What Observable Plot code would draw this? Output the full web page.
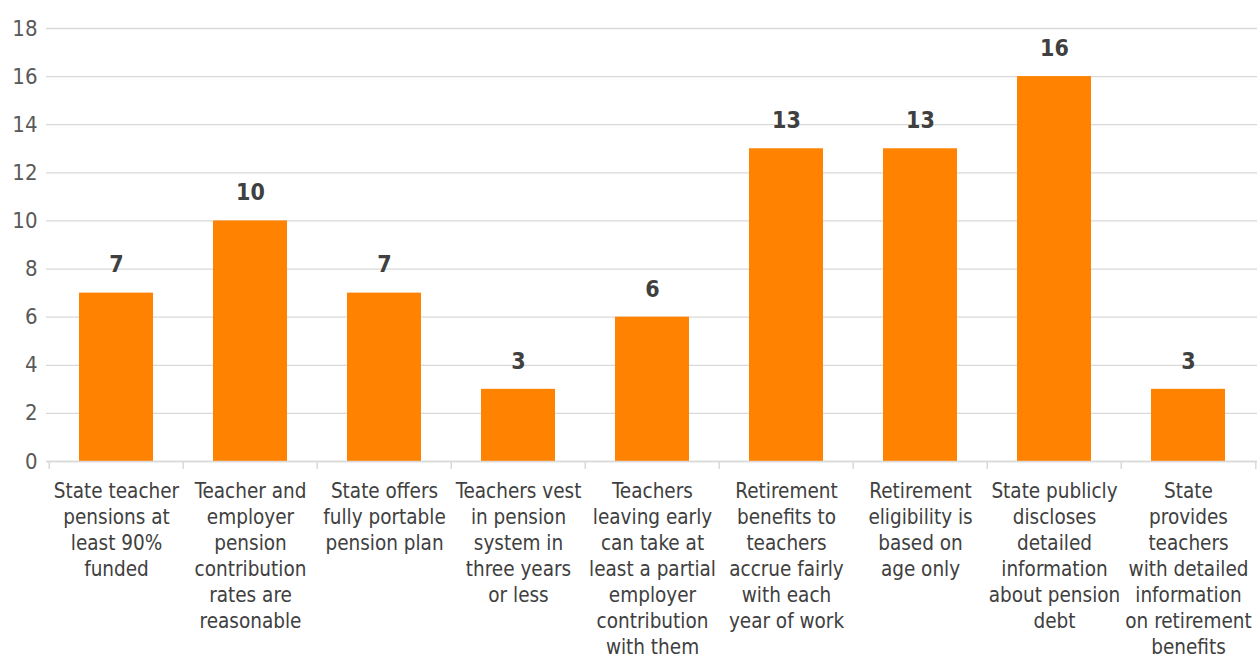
<!DOCTYPE html>
<html><head><meta charset="utf-8">
<script src="https://cdn.jsdelivr.net/npm/d3@7"></script>
<script src="https://cdn.jsdelivr.net/npm/@observablehq/plot@0.6"></script>
<style>
html,body{margin:0;padding:0;background:#fff;}
#chart{width:1258px;height:659px;}
</style></head><body><div id="chart"></div>
<script>
const categories = [
  "State teacher pensions at least 90% funded",
  "Teacher and employer pension contribution rates are reasonable",
  "State offers fully portable pension plan",
  "Teachers vest in pension system in three years or less",
  "Teachers leaving early can take at least a partial employer contribution with them",
  "Retirement benefits to teachers accrue fairly with each year of work",
  "Retirement eligibility is based on age only",
  "State publicly discloses detailed information about pension debt",
  "State provides teachers with detailed information on retirement benefits"
];
const tickLabels = [
  "State teacher\npensions at\nleast 90%\nfunded",
  "Teacher and\nemployer\npension\ncontribution\nrates are\nreasonable",
  "State offers\nfully portable\npension plan",
  "Teachers vest\nin pension\nsystem in\nthree years\nor less",
  "Teachers\nleaving early\ncan take at\nleast a partial\nemployer\ncontribution\nwith them",
  "Retirement\nbenefits to\nteachers\naccrue fairly\nwith each\nyear of work",
  "Retirement\neligibility is\nbased on\nage only",
  "State publicly\ndiscloses\ndetailed\ninformation\nabout pension\ndebt",
  "State\nprovides\nteachers\nwith detailed\ninformation\non retirement\nbenefits"
];
const values = [7, 10, 7, 3, 6, 13, 13, 16, 3];
const yTicks = [0, 2, 4, 6, 8, 10, 12, 14, 16, 18];

const data = categories.map((c, i) => ({category: c, value: values[i]}));
const labelOf = new Map(categories.map((c, i) => [c, tickLabels[i]]));

const W = 1258, H = 659, mL = 46, mR = 1, mT = 28, mB = 198;
const step = (W - mL - mR) / categories.length;
const font = '"Liberation Sans Narrow","DejaVu Sans Condensed","Roboto",sans-serif';

const chart = Plot.plot({
  width: W, height: H,
  marginLeft: mL, marginRight: mR, marginTop: mT, marginBottom: mB,
  style: {fontFamily: font, background: "transparent", overflow: "visible"},
  x: {domain: categories, paddingInner: 0.45, paddingOuter: 0.225, axis: null},
  y: {domain: [0, 18], axis: null},
  marks: [
    Plot.gridY(yTicks, {stroke: "#d9d9d9", strokeOpacity: 1, strokeWidth: 1.3}),
    Plot.axisY(yTicks, {label: null, tickSize: 0, tickPadding: 9, fontSize: 22, fill: "#595959"}),
    Plot.barY(data, {x: "category", y: "value", fill: "#ff8200"}),
    Plot.ruleY([0], {stroke: "#d9d9d9", strokeWidth: 1.5}),
    Plot.ruleX(data, {x: "category", y1: 0, y2: 0, dx: -step / 2, insetBottom: -8, stroke: "#d9d9d9", strokeWidth: 1.5}),
    Plot.ruleX(data.slice(-1), {x: "category", y1: 0, y2: 0, dx: step / 2, insetBottom: -8, stroke: "#d9d9d9", strokeWidth: 1.5}),
    Plot.text(data, {x: "category", y: "value", text: d => String(d.value), dy: -28, fontSize: 23, fontWeight: "bold", fill: "#404040"}),
    Plot.axisX({label: null, tickSize: 0, tickPadding: 18, fontSize: 20.5, lineHeight: 1.27, fill: "#404040", tickFormat: d => labelOf.get(d)})
  ]
});
document.getElementById("chart").appendChild(chart);
</script>
</body></html>
